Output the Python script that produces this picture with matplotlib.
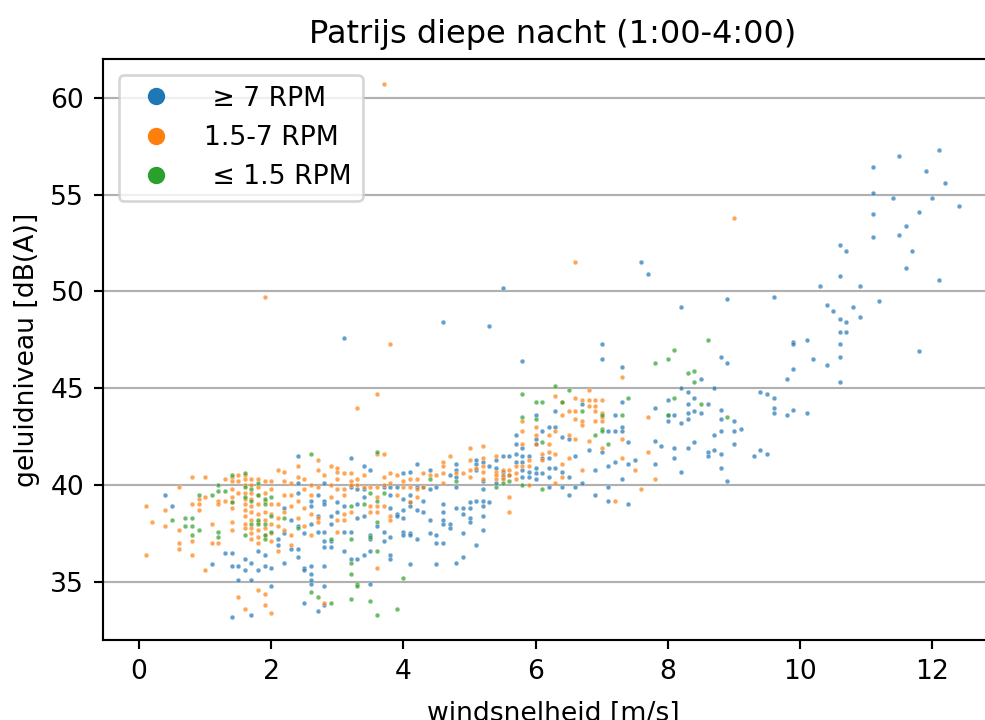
import numpy as np
import matplotlib.pyplot as plt
from matplotlib.lines import Line2D

# -------------------------
# data: windsnelheid (m/s) -> list of geluidniveau (dB(A)), per RPM class
# >= 7 RPM
blue_cols = {
    0.4: [39.5], 0.5: [38.9], 1.1: [35.9], 1.3: [36.5],
    1.4: [36.5, 35.8, 33.2], 1.5: [35.8, 35.1], 1.6: [36.2, 35.6],
    1.7: [36.0, 35.1, 33.3], 1.8: [36.6, 35.6], 1.9: [36.4, 35.8],
    2.0: [35.7, 34.8], 2.1: [37.2, 36.9], 2.2: [38.8, 36.0, 37.5],
    2.3: [36.7, 38.2], 2.4: [41.5, 40.1, 39.6, 37.9, 36.7, 36.3],
    2.5: [35.7, 35.6, 33.9, 37.5], 2.6: [35.8, 35.4, 35.1, 34.9, 38.9, 38.0, 39.2],
    2.7: [39.5, 38.4, 37.6, 33.5],
    2.8: [40.1, 39.2, 39.0, 37.6, 37.1, 36.8, 35.8, 34.8, 33.8],
    2.9: [38.4, 38.0, 37.1, 36.8], 3.0: [39.1, 38.6],
    3.1: [47.6, 38.9, 37.6, 36.6], 3.2: [41.4, 39.9, 37.6, 36.2],
    3.3: [39.8, 39.0, 38.3, 36.2], 3.4: [41.0, 39.8, 39.4, 38.4, 36.4],
    3.5: [40.8, 37.4, 37.2, 36.6, 34.9], 3.6: [37.9],
    3.7: [39.9, 37.6, 37.1], 3.8: [39.9, 39.5, 38.8, 37.3, 36.4, 36.2],
    3.9: [39.9, 38.5, 38.4], 4.0: [40.6, 39.3, 38.7, 38.3, 37.6, 37.4],
    4.1: [40.7, 39.5, 39.1, 38.9, 37.5, 37.4, 35.9],
    4.2: [41.1, 39.9, 38.7, 37.2], 4.3: [39.9, 39.2, 38.6],
    4.4: [40.8, 39.8, 38.2, 37.5], 4.5: [39.9, 37.4, 37.0, 35.9],
    4.6: [48.4, 39.0, 38.6, 38.2, 38.0, 37.0], 4.7: [40.5, 38.0, 37.8],
    4.8: [41.1, 40.8, 40.4, 39.9, 38.8, 36.0], 4.9: [38.8, 38.5, 37.5, 36.3],
    5.0: [39.1, 38.8, 38.3, 38.1], 5.1: [41.3, 41.1, 40.8, 39.2, 36.9],
    5.2: [41.2, 40.2, 39.8, 39.2, 38.9, 38.4, 37.7], 5.3: [48.2, 39.1, 41.0],
    5.4: [41.3, 40.9, 40.1], 5.5: [50.2, 41.5, 40.7, 40.4], 5.6: [41.5, 40.5],
    5.7: [42.6, 42.1, 41.6, 41.2], 5.8: [46.4, 41.9, 41.5, 41.2, 40.8, 40.4],
    5.9: [41.5, 40.7, 40.4], 6.0: [43.6, 42.4, 42.1, 40.9, 40.6, 40.3],
    6.1: [42.8, 41.4, 40.6], 6.2: [43.0, 41.4, 40.9, 40.4, 39.9],
    6.3: [43.8, 43.0, 40.9], 6.4: [42.5, 40.7, 39.9], 6.5: [42.4, 40.4, 39.5],
    6.6: [41.5, 39.9], 6.7: [44.2, 40.1], 6.8: [41.8], 6.9: [40.8, 39.5],
    7.0: [47.3, 46.5, 41.7], 7.1: [42.8, 41.0, 39.9, 39.2],
    7.2: [43.6, 42.8, 41.2], 7.3: [46.1, 44.3, 43.0, 42.8, 40.3],
    7.4: [42.2, 41.1, 39.0], 7.5: [41.3], 7.6: [51.5], 7.7: [50.9],
    7.8: [44.0, 42.3, 41.1], 7.9: [42.0], 8.0: [44.4, 43.6, 43.3],
    8.1: [43.6, 41.9, 41.4], 8.2: [49.2, 45.0, 43.2, 40.7],
    8.3: [44.8, 44.2, 43.7, 43.4, 41.9], 8.4: [44.5, 43.8, 42.2],
    8.5: [45.5, 43.7], 8.6: [44.2, 41.7, 41.5], 8.7: [45.0, 42.6, 41.8],
    8.8: [46.6, 43.9, 43.4, 42.8, 41.6, 40.9], 8.9: [49.6, 46.3, 40.2],
    9.0: [43.3, 42.8, 42.1], 9.1: [42.9], 9.3: [41.5], 9.4: [44.8, 41.8],
    9.5: [44.7, 41.6], 9.6: [49.7, 44.5, 44.0, 43.7], 9.8: [45.5, 43.6],
    9.9: [47.4, 47.3, 46.0, 43.9], 10.1: [47.5, 43.7], 10.2: [46.5],
    10.3: [50.3], 10.4: [49.3, 46.2], 10.5: [49.0],
    10.6: [52.4, 50.8, 48.6, 47.9, 47.3, 46.6, 45.3], 10.7: [52.1, 48.4, 47.9],
    10.8: [49.2], 10.9: [50.3, 48.7], 11.1: [56.4, 55.1, 54.0, 52.8],
    11.2: [49.5], 11.4: [54.8], 11.5: [57.0, 52.9], 11.6: [53.4, 51.2],
    11.7: [52.1], 11.8: [54.1, 46.9], 11.9: [56.2], 12.0: [54.8],
    12.1: [57.3, 50.6], 12.2: [55.6], 12.4: [54.4],
}
# 1.5-7 RPM
orange_cols = {
    0.1: [38.9, 36.4], 0.2: [38.1], 0.4: [38.7, 37.9],
    0.6: [39.9, 37.7, 37.0, 36.7], 0.8: [40.4, 39.0, 37.1, 36.4],
    0.9: [39.3, 39.0, 38.7], 1.0: [40.4, 39.4, 35.6], 1.1: [38.0, 37.0],
    1.2: [39.2, 39.0, 37.0], 1.3: [40.3, 39.2],
    1.4: [40.4, 40.2, 39.8, 39.4, 39.1, 38.8, 38.1, 37.7],
    1.5: [40.5, 40.2, 39.6, 34.2],
    1.6: [40.5, 40.3, 40.0, 39.6, 39.3, 39.0, 38.7, 38.4, 38.0, 37.8, 33.6],
    1.7: [40.3, 40.0, 39.6, 39.3, 38.9, 38.6, 38.2, 37.8, 37.5, 37.2],
    1.8: [40.3, 39.9, 39.5, 39.0, 38.5, 38.1, 37.7, 37.3, 37.0, 34.6],
    1.9: [49.7, 40.2, 39.6, 39.2, 38.6, 38.2, 37.8, 37.4, 34.4, 33.8],
    2.0: [40.2, 39.8, 39.0, 38.5, 38.0, 37.5, 37.1, 33.4],
    2.1: [40.8, 39.0, 38.3, 37.9, 36.6], 2.2: [40.7, 40.2, 39.5, 38.6, 37.7],
    2.3: [40.1, 39.5, 38.9, 37.4, 36.9], 2.4: [41.0, 40.4, 39.2, 38.3],
    2.5: [40.3, 39.8, 38.8, 37.9], 2.6: [40.0, 39.5, 38.5, 37.4],
    2.7: [41.3, 40.8, 39.9, 38.3, 38.1], 2.8: [40.5, 33.9],
    2.9: [41.0, 40.0, 39.4], 3.0: [40.9, 40.7, 40.3, 39.8, 38.2, 37.6],
    3.1: [40.6, 39.8, 39.5, 38.5, 38.2], 3.2: [40.6, 40.2, 40.0, 38.6],
    3.3: [44.0, 40.3, 40.0], 3.4: [40.5, 39.9], 3.5: [39.9, 38.9, 38.6],
    3.6: [44.7, 41.6, 39.9, 39.4, 38.9, 38.6, 35.7],
    3.7: [60.7, 41.6, 40.4, 40.0, 38.9], 3.8: [47.3, 40.6, 40.1, 38.4, 38.2],
    3.9: [40.5, 39.5], 4.0: [40.2, 39.9], 4.1: [40.3, 39.9, 39.1],
    4.2: [40.3, 39.8, 39.4], 4.3: [40.6, 39.9], 4.4: [40.5], 4.5: [40.5],
    4.6: [41.2, 41.0, 40.6, 40.1], 4.7: [41.5], 4.8: [40.6], 4.9: [40.6],
    5.0: [41.9, 41.3, 40.8, 40.4], 5.1: [40.9],
    5.2: [42.0, 41.4, 41.0, 40.7, 40.3], 5.4: [41.5, 40.7, 40.5, 40.3],
    5.5: [40.8, 40.5, 40.3], 5.6: [40.8, 40.5, 39.4, 38.6],
    5.7: [41.0, 40.6, 40.3], 5.8: [43.3, 42.8, 42.1, 41.0],
    5.9: [41.3, 41.0, 40.0], 6.0: [43.0, 42.6, 42.1], 6.1: [41.6, 41.3],
    6.2: [42.6, 42.1, 41.7], 6.3: [44.6, 42.8, 41.6, 40.1],
    6.4: [44.3, 43.6, 41.1, 40.4], 6.5: [43.8, 42.6, 41.4],
    6.6: [51.5, 44.5, 43.8, 43.4, 42.4], 6.7: [44.4, 43.3, 43.1, 40.8],
    6.8: [44.9, 44.4, 44.1, 42.3], 6.9: [44.4, 44.1, 43.8, 43.3],
    7.0: [44.4, 43.7, 43.5, 43.3, 41.9], 7.2: [39.2],
    7.3: [45.6, 42.4, 41.4], 7.5: [40.8], 7.6: [39.8], 7.7: [43.5, 41.7],
    7.8: [40.3], 9.0: [53.8],
}
# <= 1.5 RPM
green_cols = {
    0.5: [38.2], 0.7: [38.3, 37.9], 0.8: [38.3, 37.9, 37.4],
    0.9: [39.5, 37.7], 1.1: [39.5], 1.2: [40.0, 39.7, 37.6, 37.3],
    1.3: [39.7], 1.4: [40.5, 39.1], 1.6: [40.6, 39.9, 39.4, 37.4],
    1.7: [39.8, 39.2, 38.0], 1.8: [40.1, 39.5, 38.2, 38.0],
    1.9: [39.3, 39.0, 38.0, 37.4, 37.2], 2.0: [39.4, 38.4, 37.6],
    2.2: [38.3], 2.4: [37.8], 2.6: [41.6, 34.5], 2.7: [34.2],
    2.9: [37.2, 33.9], 3.2: [38.9, 37.2, 36.0, 35.4, 34.1],
    3.3: [34.9, 34.8], 3.4: [39.0], 3.5: [39.6, 37.3, 34.0],
    3.6: [41.7, 39.2, 38.1, 36.6, 33.3], 3.7: [39.6], 3.9: [33.6],
    4.0: [35.2], 4.4: [40.3], 4.8: [40.2], 5.4: [39.9], 5.5: [40.1],
    5.6: [40.2], 5.8: [44.7, 43.5, 40.0], 6.0: [44.3, 43.4],
    6.1: [44.3, 42.2, 39.8], 6.3: [45.1], 6.4: [44.3], 6.5: [44.9],
    6.7: [43.8], 6.9: [42.6], 7.0: [43.6, 42.9, 42.8], 7.1: [42.1],
    7.3: [43.6], 7.4: [44.5], 7.8: [46.3], 8.0: [46.5, 43.6],
    8.1: [47.0, 44.5], 8.3: [45.8], 8.4: [45.9, 45.3], 8.5: [44.2],
    8.6: [47.5], 8.9: [43.5],
}

labels = [' \u2265 7 RPM', '1.5-7 RPM', ' \u2264 1.5 RPM']
colors = ['tab:blue', 'tab:orange', 'tab:green']


def flatten(cols):
    xs, ys = [], []
    for x, yl in cols.items():
        for y in yl:
            xs.append(x)
            ys.append(y)
    return np.array(xs), np.array(ys)


# -------------------------
DPI = 192
fig = plt.figure(figsize=(985/DPI, 720/DPI), dpi=DPI)
ax = fig.add_axes([103/985, 1-640/720, 900/985, 581/720])

for cols, c in zip([blue_cols, orange_cols, green_cols], colors):
    x, y = flatten(cols)
    ax.scatter(x, y, s=3.2, color=c, alpha=0.7, edgecolors='white', linewidths=0.15)

# x-scale: 0 at px 139, 12 at px 932
ax.set_xlim(-0.545, 13.07)
ax.set_ylim(32.0, 62.0)
ax.set_xticks([0, 2, 4, 6, 8, 10, 12])
ax.set_yticks([35, 40, 45, 50, 55, 60])
ax.yaxis.grid(True, color='#b0b0b0')
ax.set_axisbelow(True)

ax.set_title('Patrijs diepe nacht (1:00-4:00)')
ax.set_xlabel('windsnelheid [m/s]', labelpad=6)
ax.set_ylabel('geluidniveau [dB(A)]')

handles = [Line2D([], [], marker='o', ls='', color=c, markersize=5.5) for c in colors]
ax.legend(handles, labels, loc='upper left', borderaxespad=0.6)

fig.savefig('out.png', dpi=DPI)
